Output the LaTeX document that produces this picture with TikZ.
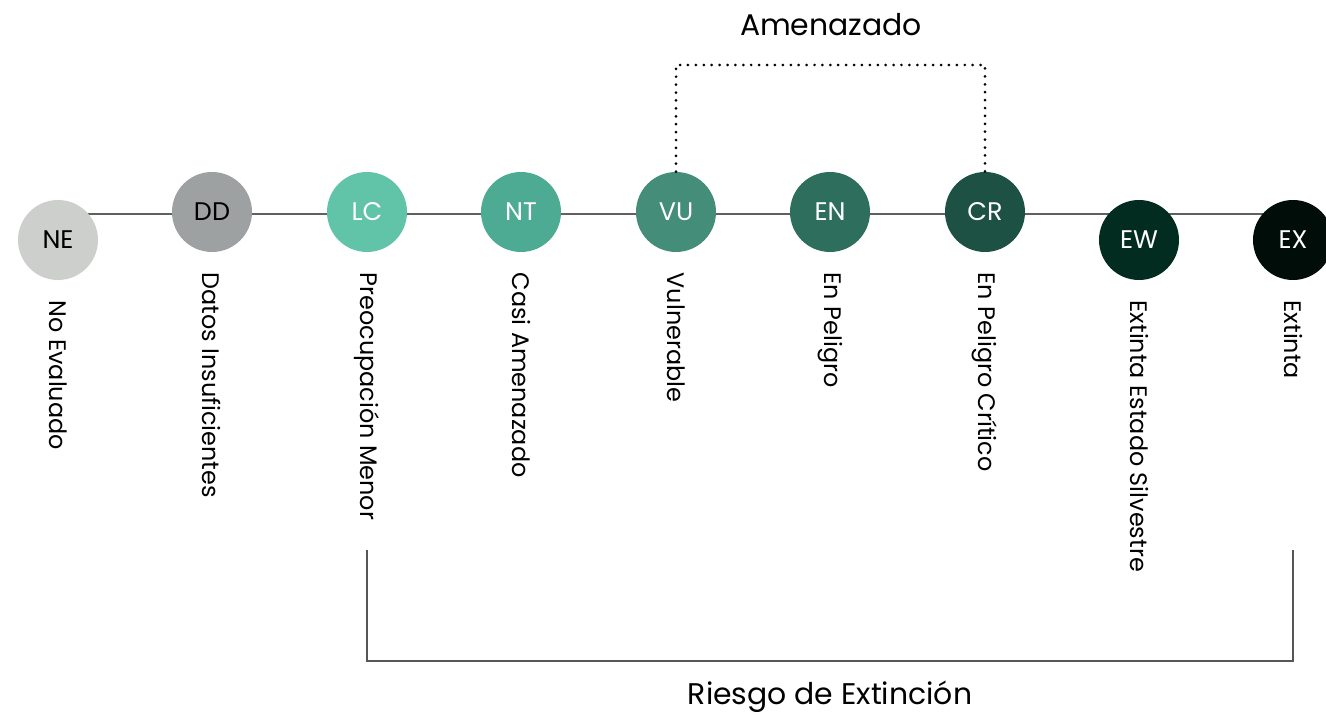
\documentclass[tikz,border=0pt]{standalone}
\usepackage{fontspec}
\setmainfont{Poppins}
\usetikzlibrary{backgrounds}

\definecolor{cNE}{HTML}{CDCFCC}
\definecolor{cDD}{HTML}{9EA1A2}
\definecolor{cLC}{HTML}{61C3A8}
\definecolor{cNT}{HTML}{4DAB94}
\definecolor{cVU}{HTML}{448D78}
\definecolor{cEN}{HTML}{2E6E5D}
\definecolor{cCR}{HTML}{1C5144}
\definecolor{cEW}{HTML}{032C20}
\definecolor{cEX}{HTML}{000D09}
\definecolor{gris}{HTML}{606060}

\tikzset{
  estado/.style={circle, minimum size=1.6cm, inner sep=0pt, font=\fontsize{14.5}{16}\selectfont},
  rotulo/.style={rotate=-90, anchor=west, inner sep=0pt, font=\fontsize{13.6}{16}\selectfont},
  linea/.style={gris, line width=1.1pt},
  punteado/.style={black, line width=1.7pt, line cap=round, dash pattern=on 0pt off 4.5pt},
  corchete/.style={gris!90!black, line width=1.1pt}
}

\begin{document}
\begin{tikzpicture}
  \useasboundingbox (0,0) rectangle (26.52,14.34);

  \node[estado, fill=cNE, text=black] (ne) at (1.16,9.54)  {NE};
  \node[estado, fill=cDD, text=black] (dd) at (4.24,10.1)  {DD};
  \node[estado, fill=cLC, text=white] (lc) at (7.34,10.1)  {LC};
  \node[estado, fill=cNT, text=white] (nt) at (10.42,10.1) {NT};
  \node[estado, fill=cVU, text=white] (vu) at (13.52,10.1) {VU};
  \node[estado, fill=cEN, text=white] (en) at (16.6,10.1)  {EN};
  \node[estado, fill=cCR, text=white] (cr) at (19.7,10.1)  {CR};
  \node[estado, fill=cEW, text=white] (ew) at (22.78,9.54) {EW};
  \node[estado, fill=cEX, text=white] (ex) at (25.86,9.54) {EX};

  \begin{scope}[on background layer]
    \draw[linea] ([yshift=-0.04cm]ne |- dd) -- ([yshift=-0.04cm]ex |- dd);
  \end{scope}

  \node[rotulo] (tne) at ([yshift=-0.4cm]ne.south) {No Evaluado};
  \node[rotulo] (tdd) at ([yshift=-0.4cm]dd.south) {Datos Insuficientes};
  \node[rotulo] (tlc) at ([yshift=-0.4cm]lc.south) {Preocupación Menor};
  \node[rotulo] (tnt) at ([yshift=-0.4cm]nt.south) {Casi Amenazado};
  \node[rotulo] (tvu) at ([yshift=-0.4cm]vu.south) {Vulnerable};
  \node[rotulo] (ten) at ([yshift=-0.4cm]en.south) {En Peligro};
  \node[rotulo] (tcr) at ([yshift=-0.4cm]cr.south) {En Peligro Crítico};
  \node[rotulo] (tew) at ([yshift=-0.4cm]ew.south) {Extinta Estado Silvestre};
  \node[rotulo] (tex) at ([yshift=-0.4cm]ex.south) {Extinta};

  % amenazado
  \node[font=\fontsize{17}{20}\selectfont] (amen) at (16.62,13.84) {Amenazado};
  \coordinate (tope) at (0,13.04);
  \draw[punteado] (vu.north) -- (vu.north |- tope) -| (cr.north);

  % riesgo
  \node[font=\fontsize{17}{20}\selectfont] (riesgo) at (16.6,0.4) {Riesgo de Extinción};
  \coordinate (alto) at (0,3.34);
  \coordinate (bajo) at (0,1.12);
  \draw[corchete] (lc |- alto) -- (lc |- bajo) -- (ex |- bajo) -- (ex |- alto);
\end{tikzpicture}
\end{document}
